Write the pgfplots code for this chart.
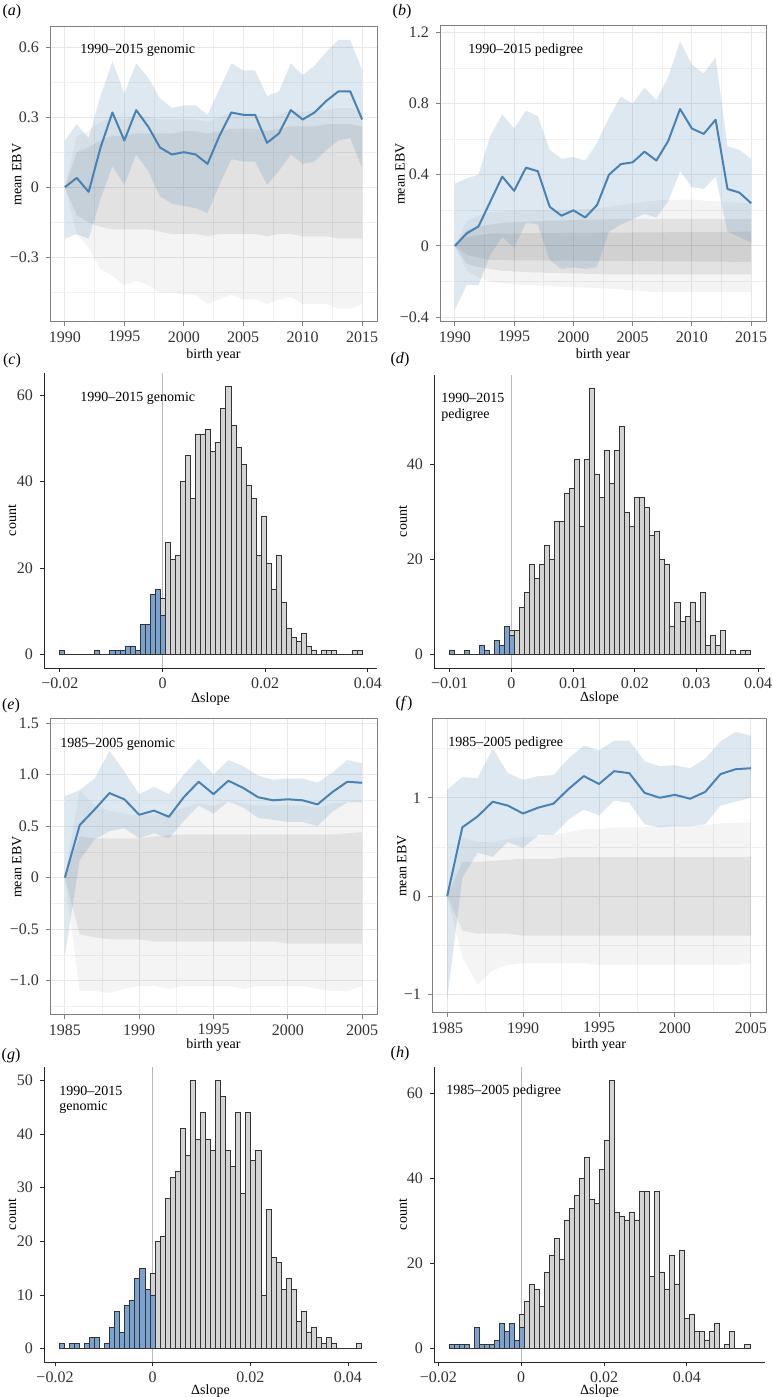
\documentclass[border=0pt]{standalone}
\usepackage{fontspec}
\setmainfont{Liberation Serif}
\usepackage{pgfplots}
\usepackage{pgfplotstable}
\pgfplotsset{compat=1.18}
\definecolor{steel}{RGB}{70,130,180}
\definecolor{hblue}{RGB}{122,163,207}
\definecolor{hgray}{RGB}{211,211,211}

\pgfplotsset{
 lp/.style={scale only axis, anchor=south west,
  axis line style={black!50, line width=0.5pt},
  tick style={black!50, line width=0.45pt}, tick align=outside, tick pos=left,
  major tick length=2pt, minor tick length=0pt,
  grid=both, major grid style={black!9, line width=0.5pt}, minor grid style={black!6, line width=0.3pt},
  tick label style={font=\fontsize{8}{9}\selectfont, text=black!80},
  xticklabel style={inner sep=1pt, yshift=-1.5pt},
  label style={font=\fontsize{7}{8}\selectfont, inner sep=1pt},
  xlabel style={anchor=center}, ylabel style={anchor=center},
  scaled x ticks=false, scaled y ticks=false},
 hist/.style={scale only axis, anchor=south west, axis lines*=left,
  axis line style={black!85, line width=0.45pt},
  tick style={black!85, line width=0.45pt}, tick align=outside,
  major tick length=2pt,
  tick label style={font=\fontsize{8}{9}\selectfont, text=black!80},
  xticklabel style={inner sep=1pt, yshift=-1.5pt},
  label style={font=\fontsize{7}{8}\selectfont, inner sep=1pt},
  xlabel style={anchor=center}, ylabel style={anchor=center},
  scaled x ticks=false, scaled y ticks=false},
 hbar/.style={ybar, bar shift=0pt, draw=black!80, line width=0.4pt, forget plot},
 gout/.style={fill=black, fill opacity=0.045, draw=none, forget plot},
 ginn/.style={fill=black, fill opacity=0.075, draw=none, forget plot},
 band/.style={fill=steel, fill opacity=0.18, draw=none, forget plot},
 mline/.style={steel, line width=1pt, line join=round, forget plot}
}

% histogram (c)
\pgfplotstableread{
x y
0.000060 13
0.001043 26
0.002026 22
0.003009 23
0.003992 40
0.004975 46
0.005958 36
0.006941 51
0.007924 51
0.008907 52
0.009890 47
0.010873 49
0.011856 57
0.012839 62
0.013822 53
0.014805 48
0.015788 44
0.016771 39
0.017754 36
0.018737 23
0.019720 32
0.020703 21
0.021686 15
0.022669 23
0.023652 12
0.024635 6
0.025618 4
0.026601 3
0.027584 5
0.028567 2
0.029550 1
0.031516 1
0.032499 1
0.033482 1
0.037414 1
0.038397 1
}\hCg
\pgfplotstableread{
x y
-0.019600 1
-0.012719 1
-0.009770 1
-0.008787 1
-0.007804 1
-0.006821 2
-0.005838 2
-0.004855 1
-0.003872 7
-0.002889 7
-0.001906 14
-0.000923 15
0.000060 9
}\hCb

% histogram (d)
\pgfplotstableread{
x y
0.000076 5
0.000889 5
0.001702 10
0.002515 13
0.003328 19
0.004141 16
0.004954 19
0.005767 23
0.006580 20
0.007393 28
0.008206 28
0.009019 34
0.009832 35
0.010645 41
0.011458 27
0.012271 41
0.013084 56
0.013897 38
0.014710 33
0.015523 43
0.016336 36
0.017149 43
0.017962 48
0.018775 30
0.019588 27
0.020401 33
0.021214 33
0.022027 31
0.022840 25
0.023653 26
0.024466 20
0.025279 19
0.026092 6
0.026905 11
0.027718 7
0.028531 8
0.029344 11
0.030157 7
0.030970 13
0.031783 2
0.032596 4
0.033409 2
0.034222 5
0.035848 1
0.037474 1
0.038287 1
}\hDg
\pgfplotstableread{
x y
-0.009680 1
-0.007241 1
-0.004802 2
-0.003989 1
-0.002363 3
-0.001550 2
-0.000737 6
0.000076 4
}\hDb

% histogram (g)
\pgfplotstableread{
x y
-0.000036 14
0.000997 20
0.002030 21
0.003063 28
0.004096 32
0.005129 33
0.006162 41
0.007195 36
0.008228 50
0.009261 39
0.010294 44
0.011327 39
0.012360 37
0.013393 50
0.014426 47
0.015459 37
0.016492 34
0.017525 44
0.018558 29
0.019591 44
0.020624 35
0.021657 37
0.022690 10
0.023723 26
0.024756 17
0.025789 16
0.026822 11
0.027855 13
0.028888 11
0.029921 5
0.030954 7
0.031987 3
0.033020 4
0.034053 2
0.035086 1
0.036119 2
0.037152 1
0.042317 1
}\hGg
\pgfplotstableread{
x y
-0.018630 1
-0.016564 1
-0.015531 1
-0.013465 1
-0.012432 2
-0.011399 2
-0.009333 1
-0.008300 4
-0.007267 7
-0.006234 3
-0.005201 8
-0.004168 9
-0.003135 13
-0.002102 15
-0.001069 11
-0.000036 10
}\hGb

% histogram (h)
\pgfplotstableread{
x y
0.000140 8
0.001350 11
0.002560 15
0.003770 14
0.004980 10
0.006190 18
0.007400 22
0.008610 26
0.009820 21
0.011030 30
0.012240 33
0.013450 36
0.014660 40
0.015870 45
0.017080 35
0.018290 34
0.019500 42
0.020710 49
0.021920 63
0.023130 32
0.024340 31
0.025550 30
0.026760 32
0.027970 30
0.029180 37
0.030390 37
0.031600 17
0.032810 37
0.034020 18
0.035230 14
0.036440 22
0.037650 15
0.038860 23
0.040070 7
0.041280 8
0.042490 4
0.043700 4
0.044910 2
0.046120 4
0.047330 6
0.049750 1
0.050960 4
0.054590 1
}\hHg
\pgfplotstableread{
x y
-0.016800 1
-0.015590 1
-0.014380 1
-0.013170 1
-0.010750 5
-0.009540 1
-0.008330 1
-0.007120 1
-0.005910 2
-0.004700 6
-0.003490 4
-0.002280 6
-0.001070 2
0.000140 5
}\hHb

\begin{document}
\begin{tikzpicture}
\useasboundingbox (0,0) rectangle (386pt,698.5pt);

% (a)
\begin{axis}[lp, at={(25pt,537.5pt)}, width=163.5pt, height=147.5pt,
 xmin=1988.75, xmax=2016.25, ymin=-0.577, ymax=0.686,
 xtick={1990,1995,2000,2005,2010,2015}, xticklabels={1990,1995,2000,2005,2010,2015},
 minor xtick={1992.5,1997.5,2002.5,2007.5,2012.5},
 ytick={-0.3,0,0.3,0.6}, yticklabels={−0.3,0,0.3,0.6},
 minor ytick={-0.45,-0.15,0.15,0.45},
 xlabel={birth year}, ylabel={mean EBV},
 xlabel style={at={(axis description cs:0.5,-0.112)}},
 ylabel style={at={(axis description cs:-0.101,0.5)}}]
\addplot[gout] coordinates {(1990,0) (1991,0.22) (1992,0.24) (1993,0.28) (1994,0.30) (1995,0.29) (1996,0.31) (1997,0.30) (1998,0.29) (1999,0.29) (2000,0.29) (2001,0.29) (2002,0.28) (2003,0.30) (2004,0.32) (2005,0.31) (2006,0.31) (2007,0.30) (2008,0.31) (2009,0.33) (2010,0.32) (2011,0.33) (2012,0.33) (2013,0.34) (2014,0.34) (2015,0.32)
 (2015,-0.50) (2014,-0.52) (2013,-0.52) (2012,-0.50) (2011,-0.50) (2010,-0.50) (2009,-0.47) (2008,-0.48) (2007,-0.50) (2006,-0.48) (2005,-0.48) (2004,-0.46) (2003,-0.48) (2002,-0.50) (2001,-0.46) (2000,-0.46) (1999,-0.45) (1998,-0.45) (1997,-0.42) (1996,-0.40) (1995,-0.42) (1994,-0.38) (1993,-0.35) (1992,-0.26) (1991,-0.20)};
\addplot[ginn] coordinates {(1990,0) (1991,0.15) (1992,0.17) (1993,0.20) (1994,0.22) (1995,0.22) (1996,0.23) (1997,0.23) (1998,0.23) (1999,0.23) (2000,0.24) (2001,0.24) (2002,0.23) (2003,0.24) (2004,0.25) (2005,0.25) (2006,0.25) (2007,0.24) (2008,0.25) (2009,0.26) (2010,0.26) (2011,0.26) (2012,0.27) (2013,0.27) (2014,0.27) (2015,0.26)
 (2015,-0.22) (2014,-0.22) (2013,-0.22) (2012,-0.21) (2011,-0.21) (2010,-0.21) (2009,-0.20) (2008,-0.20) (2007,-0.21) (2006,-0.20) (2005,-0.20) (2004,-0.20) (2003,-0.20) (2002,-0.21) (2001,-0.20) (2000,-0.20) (1999,-0.20) (1998,-0.19) (1997,-0.18) (1996,-0.18) (1995,-0.18) (1994,-0.18) (1993,-0.17) (1992,-0.15) (1991,-0.12)};
\addplot[band] coordinates {(1990,0.20) (1991,0.27) (1992,0.21) (1993,0.39) (1994,0.54) (1995,0.40) (1996,0.53) (1997,0.47) (1998,0.38) (1999,0.34) (2000,0.35) (2001,0.35) (2002,0.31) (2003,0.42) (2004,0.53) (2005,0.50) (2006,0.50) (2007,0.39) (2008,0.41) (2009,0.53) (2010,0.48) (2011,0.52) (2012,0.58) (2013,0.63) (2014,0.63) (2015,0.50)
 (2015,0.08) (2014,0.21) (2013,0.20) (2012,0.16) (2011,0.11) (2010,0.10) (2009,0.14) (2008,0.07) (2007,0.01) (2006,0.11) (2005,0.11) (2004,0.12) (2003,0.01) (2002,-0.11) (2001,-0.09) (2000,-0.08) (1999,-0.07) (1998,-0.04) (1997,0.07) (1996,0.14) (1995,0.01) (1994,0.09) (1993,-0.05) (1992,-0.22) (1991,-0.20) (1990,-0.22)};
\addplot[mline] coordinates {(1990,0) (1991,0.04) (1992,-0.02) (1993,0.17) (1994,0.32) (1995,0.20) (1996,0.33) (1997,0.26) (1998,0.17) (1999,0.14) (2000,0.15) (2001,0.14) (2002,0.10) (2003,0.22) (2004,0.32) (2005,0.31) (2006,0.31) (2007,0.19) (2008,0.23) (2009,0.33) (2010,0.29) (2011,0.32) (2012,0.37) (2013,0.41) (2014,0.41) (2015,0.29)};
\end{axis}

% (b)
\begin{axis}[lp, at={(220pt,537.5pt)}, width=163pt, height=148pt,
 xmin=1988.75, xmax=2016.25, ymin=-0.428, ymax=1.237,
 xtick={1990,1995,2000,2005,2010,2015}, xticklabels={1990,1995,2000,2005,2010,2015},
 minor xtick={1992.5,1997.5,2002.5,2007.5,2012.5},
 ytick={-0.4,0,0.4,0.8,1.2}, yticklabels={−0.4,0,0.4,0.8,1.2},
 minor ytick={-0.2,0.2,0.6,1.0},
 xlabel={birth year}, ylabel={mean EBV},
 xlabel style={at={(axis description cs:0.5,-0.111)}},
 ylabel style={at={(axis description cs:-0.122,0.5)}}]
\addplot[gout] coordinates {(1990,0) (1991,0.14) (1992,0.17) (1993,0.19) (1995,0.20) (1998,0.20) (2002,0.21) (2004,0.23) (2006,0.25) (2008,0.26) (2010,0.26) (2012,0.25) (2015,0.24)
 (2015,-0.26) (2007,-0.26) (2005,-0.25) (2003,-0.24) (1999,-0.23) (1996,-0.22) (1994,-0.21) (1993,-0.20) (1992,-0.18) (1991,-0.14)};
\addplot[ginn] coordinates {(1990,0) (1991,0.09) (1992,0.11) (1993,0.12) (1994,0.13) (1997,0.14) (2003,0.15) (2015,0.15)
 (2015,-0.16) (2003,-0.16) (1997,-0.15) (1994,-0.14) (1993,-0.13) (1992,-0.12) (1991,-0.10)};
\addplot[ginn] coordinates {(1990,0) (1991,0.05) (1993,0.07) (2015,0.08) (2015,-0.09) (1993,-0.08) (1991,-0.05)};
\addplot[band] coordinates {(1990,0.35) (1991,0.38) (1992,0.40) (1993,0.62) (1994,0.74) (1995,0.66) (1996,0.76) (1997,0.73) (1998,0.54) (1999,0.49) (2000,0.50) (2001,0.48) (2002,0.58) (2003,0.72) (2004,0.84) (2005,0.80) (2006,0.89) (2007,0.82) (2008,0.95) (2009,1.15) (2010,1.02) (2011,0.97) (2012,1.06) (2013,0.56) (2014,0.54) (2015,0.49)
 (2015,0.02) (2014,0.05) (2013,0.08) (2012,0.39) (2011,0.32) (2010,0.33) (2009,0.42) (2008,0.25) (2007,0.16) (2006,0.18) (2005,0.15) (2004,0.12) (2003,0.08) (2002,-0.12) (2001,-0.13) (2000,-0.12) (1999,-0.13) (1998,-0.08) (1997,0.12) (1996,0.13) (1995,-0.01) (1994,0.05) (1993,-0.05) (1992,-0.22) (1991,-0.22) (1990,-0.36)};
\addplot[mline] coordinates {(1990,0) (1991,0.07) (1992,0.11) (1993,0.25) (1994,0.39) (1995,0.31) (1996,0.44) (1997,0.42) (1998,0.22) (1999,0.17) (2000,0.20) (2001,0.16) (2002,0.23) (2003,0.40) (2004,0.46) (2005,0.47) (2006,0.53) (2007,0.48) (2008,0.59) (2009,0.77) (2010,0.66) (2011,0.63) (2012,0.71) (2013,0.32) (2014,0.30) (2015,0.24)};
\end{axis}

% (c)
\begin{axis}[hist, at={(22pt,364.5pt)}, width=166.5pt, height=147.5pt,
 xmin=-0.0231, xmax=0.0418, ymin=-3.1, ymax=65.1,
 xtick={-0.02,0,0.02,0.04}, xticklabels={−0.02,0,0.02,0.04},
 ytick={0,20,40,60}, yticklabels={0,20,40,60},
 xlabel={Δslope}, ylabel={count},
 xlabel style={at={(axis description cs:0.5,-0.104)}},
 ylabel style={at={(axis description cs:-0.095,0.5)}}]
\addplot[black!28, line width=0.5pt, forget plot] coordinates {(0,-3.1) (0,65.1)};
\addplot[black!80, line width=0.4pt, forget plot] coordinates {(-0.0201,0) (0.0389,0)};
\addplot[hbar, bar width=0.000983, fill=hgray] table[x=x,y=y]{\hCg};
\addplot[hbar, bar width=0.000983, fill=hblue] table[x=x,y=y]{\hCb};
\end{axis}

% (d)
\begin{axis}[hist, at={(217pt,364.5pt)}, width=165.5pt, height=146.5pt,
 xmin=-0.01253, xmax=0.0411, ymin=-2.8, ymax=58.8,
 xtick={-0.01,0,0.01,0.02,0.03,0.04}, xticklabels={−0.01,0,0.01,0.02,0.03,0.04},
 ytick={0,20,40}, yticklabels={0,20,40},
 xlabel={Δslope}, ylabel={count},
 xlabel style={at={(axis description cs:0.5,-0.104)}},
 ylabel style={at={(axis description cs:-0.094,0.5)}}]
\addplot[black!28, line width=0.5pt, forget plot] coordinates {(0,-2.8) (0,58.8)};
\addplot[black!80, line width=0.4pt, forget plot] coordinates {(-0.0101,0) (0.0387,0)};
\addplot[hbar, bar width=0.000813, fill=hgray] table[x=x,y=y]{\hDg};
\addplot[hbar, bar width=0.000813, fill=hblue] table[x=x,y=y]{\hDb};
\end{axis}

% (e)
\begin{axis}[lp, at={(25pt,191pt)}, width=163.5pt, height=148pt,
 xmin=1984, xmax=2006, ymin=-1.333, ymax=1.539,
 xtick={1985,1990,1995,2000,2005}, xticklabels={1985,1990,1995,2000,2005},
 minor xtick={1987.5,1992.5,1997.5,2002.5},
 ytick={-1,-0.5,0,0.5,1,1.5}, yticklabels={−1.0,−0.5,0,0.5,1.0,1.5},
 minor ytick={-1.25,-0.75,-0.25,0.25,0.75,1.25},
 xlabel={birth year}, ylabel={mean EBV},
 xlabel style={at={(axis description cs:0.5,-0.101)}},
 ylabel style={at={(axis description cs:-0.101,0.5)}}]
\addplot[gout] coordinates {(1985,0) (1986,0.85) (1987,0.70) (1988,0.65) (1989,0.62) (1990,0.60) (1992,0.62) (1993,0.68) (1994,0.72) (1995,0.70) (1996,0.74) (1997,0.72) (1998,0.70) (2001,0.70) (2002,0.68) (2003,0.72) (2005,0.75)
 (2005,-1.05) (2004,-1.10) (2003,-1.10) (2002,-1.08) (2001,-1.05) (1998,-1.05) (1997,-1.08) (1996,-1.05) (1993,-1.05) (1992,-1.08) (1991,-1.05) (1990,-1.05) (1989,-1.08) (1988,-1.12) (1987,-1.10) (1986,-1.10)};
\addplot[ginn] coordinates {(1985,0) (1986,0.40) (1987,0.38) (1990,0.38) (1991,0.40) (1993,0.42) (2003,0.42) (2005,0.44)
 (2005,-0.64) (2000,-0.64) (1999,-0.62) (1991,-0.62) (1990,-0.60) (1988,-0.60) (1987,-0.58) (1986,-0.55)};
\addplot[band] coordinates {(1985,0.79) (1986,0.85) (1987,0.96) (1988,1.23) (1989,1.03) (1990,0.81) (1991,0.88) (1992,0.81) (1993,1.00) (1994,1.15) (1995,1.00) (1996,1.14) (1997,1.08) (1998,0.99) (1999,0.95) (2000,0.96) (2001,0.96) (2002,0.92) (2003,1.02) (2004,1.14) (2005,1.11)
 (2005,0.73) (2004,0.73) (2003,0.64) (2002,0.50) (2001,0.54) (2000,0.54) (1999,0.56) (1998,0.58) (1997,0.68) (1996,0.74) (1995,0.62) (1994,0.70) (1993,0.55) (1992,0.38) (1991,0.43) (1990,0.38) (1989,0.48) (1988,0.45) (1987,0.37) (1986,0.17) (1985,-0.76)};
\addplot[mline] coordinates {(1985,0) (1986,0.51) (1987,0.66) (1988,0.82) (1989,0.76) (1990,0.61) (1991,0.65) (1992,0.59) (1993,0.78) (1994,0.93) (1995,0.81) (1996,0.94) (1997,0.87) (1998,0.78) (1999,0.75) (2000,0.76) (2001,0.75) (2002,0.71) (2003,0.83) (2004,0.93) (2005,0.92)};
\end{axis}

% (f)
\begin{axis}[lp, at={(216pt,192pt)}, width=167pt, height=147pt,
 xmin=1984, xmax=2006, ymin=-1.186, ymax=1.80,
 xtick={1985,1990,1995,2000,2005}, xticklabels={1985,1990,1995,2000,2005},
 minor xtick={1987.5,1992.5,1997.5,2002.5},
 ytick={-1,0,1}, yticklabels={−1,0,1},
 minor ytick={-0.5,0.5,1.5},
 xlabel={birth year}, ylabel={mean EBV},
 xlabel style={at={(axis description cs:0.5,-0.109)}},
 ylabel style={at={(axis description cs:-0.090,0.5)}}]
\addplot[gout] coordinates {(1985,0) (1986,0.60) (1987,0.55) (1988,0.55) (1989,0.58) (1990,0.60) (1992,0.62) (1993,0.65) (1994,0.68) (1995,0.68) (1996,0.70) (1998,0.70) (1999,0.72) (2002,0.72) (2003,0.74) (2005,0.75)
 (2005,-0.68) (2004,-0.70) (1995,-0.70) (1994,-0.68) (1990,-0.68) (1989,-0.70) (1988,-0.75) (1987,-0.90) (1986,-0.62)};
\addplot[ginn] coordinates {(1985,0) (1986,0.35) (1987,0.35) (1988,0.36) (1989,0.37) (1990,0.38) (1992,0.38) (1993,0.40) (2005,0.40)
 (2005,-0.40) (1990,-0.40) (1989,-0.38) (1987,-0.38) (1986,-0.35)};
\addplot[band] coordinates {(1985,1.08) (1986,1.21) (1987,1.20) (1988,1.50) (1989,1.25) (1990,1.18) (1991,1.22) (1992,1.23) (1993,1.40) (1994,1.53) (1995,1.48) (1996,1.58) (1997,1.58) (1998,1.37) (1999,1.32) (2000,1.33) (2001,1.30) (2002,1.40) (2003,1.57) (2004,1.67) (2005,1.63)
 (2005,1.00) (2004,0.96) (2003,0.92) (2002,0.73) (2001,0.71) (2000,0.71) (1999,0.70) (1998,0.73) (1997,0.95) (1996,0.97) (1995,0.82) (1994,0.88) (1993,0.78) (1992,0.62) (1991,0.62) (1990,0.49) (1989,0.55) (1988,0.40) (1987,0.44) (1986,0.19) (1985,-1.05)};
\addplot[mline] coordinates {(1985,0) (1986,0.70) (1987,0.81) (1988,0.96) (1989,0.92) (1990,0.84) (1991,0.90) (1992,0.94) (1993,1.09) (1994,1.22) (1995,1.14) (1996,1.27) (1997,1.25) (1998,1.05) (1999,1.00) (2000,1.03) (2001,0.99) (2002,1.06) (2003,1.24) (2004,1.29) (2005,1.30)};
\end{axis}

% (g)
\begin{axis}[hist, at={(22pt,17.5pt)}, width=166.5pt, height=147.5pt,
 xmin=-0.02225, xmax=0.04594, ymin=-2.5, ymax=52.5,
 xtick={-0.02,0,0.02,0.04}, xticklabels={−0.02,0,0.02,0.04},
 ytick={0,10,20,30,40,50}, yticklabels={0,10,20,30,40,50},
 xlabel={Δslope}, ylabel={count},
 xlabel style={at={(axis description cs:0.5,-0.1)}},
 ylabel style={at={(axis description cs:-0.095,0.5)}}]
\addplot[black!28, line width=0.5pt, forget plot] coordinates {(0,-2.5) (0,52.5)};
\addplot[black!80, line width=0.4pt, forget plot] coordinates {(-0.01915,0) (0.04284,0)};
\addplot[hbar, bar width=0.001033, fill=hgray] table[x=x,y=y]{\hGg};
\addplot[hbar, bar width=0.001033, fill=hblue] table[x=x,y=y]{\hGb};
\end{axis}

% (h)
\begin{axis}[hist, at={(217pt,17.5pt)}, width=165.5pt, height=147.5pt,
 xmin=-0.02104, xmax=0.05884, ymin=-3.15, ymax=66.15,
 xtick={-0.02,0,0.02,0.04}, xticklabels={−0.02,0,0.02,0.04},
 ytick={0,20,40,60}, yticklabels={0,20,40,60},
 xlabel={Δslope}, ylabel={count},
 xlabel style={at={(axis description cs:0.5,-0.1)}},
 ylabel style={at={(axis description cs:-0.094,0.5)}}]
\addplot[black!28, line width=0.5pt, forget plot] coordinates {(0,-3.15) (0,66.15)};
\addplot[black!80, line width=0.4pt, forget plot] coordinates {(-0.0174,0) (0.0552,0)};
\addplot[hbar, bar width=0.00121, fill=hgray] table[x=x,y=y]{\hHg};
\addplot[hbar, bar width=0.00121, fill=hblue] table[x=x,y=y]{\hHb};
\end{axis}

% annotations
\begin{scope}[every node/.style={font=\fontsize{7}{8}\selectfont, anchor=west, inner sep=0pt}]
\node at (40pt,673.5pt) {1990–2015 genomic};
\node at (234pt,673.5pt) {1990–2015 pedigree};
\node at (40pt,499.5pt) {1990–2015 genomic};
\node at (220.5pt,499.5pt) {1990–2015};
\node at (220.5pt,491pt) {pedigree};
\node at (30pt,326.5pt) {1985–2005 genomic};
\node at (224pt,327pt) {1985–2005 pedigree};
\node at (29.5pt,153pt) {1990–2015};
\node at (29.5pt,145pt) {genomic};
\node at (223pt,153pt) {1985–2005 pedigree};
\end{scope}
\begin{scope}[every node/.style={font=\fontsize{8}{9}\selectfont, inner sep=0pt}]
\node at (6pt,692.5pt) {(\textit{a})};
\node at (201pt,692.5pt) {(\textit{b})};
\node at (6pt,518pt) {(\textit{c})};
\node at (200pt,518.5pt) {(\textit{d})};
\node at (5.5pt,345.5pt) {(\textit{e})};
\node at (202pt,346.5pt) {(\textit{f})};
\node at (5.5pt,170.5pt) {(\textit{g})};
\node at (200pt,171.5pt) {(\textit{h})};
\end{scope}
\end{tikzpicture}
\end{document}
